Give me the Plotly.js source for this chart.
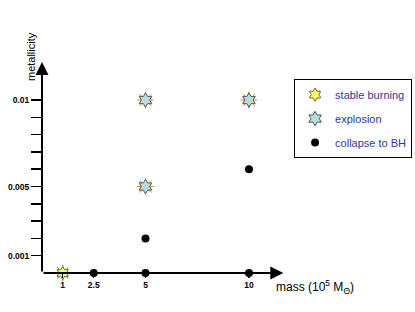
<!DOCTYPE html>
<html>
<head>
<meta charset="utf-8">
<script src="https://cdn.plot.ly/plotly-3.0.1.min.js"></script>
<style>html,body{margin:0;padding:0;background:#fff;}#chart{width:415px;height:312px;}</style>
</head>
<body>
<div id="chart"></div>
<script>
// Data
const stableMass = [1];
const stableZ = [0];
const explosionMass = [5, 10, 5];
const explosionZ = [0.01, 0.01, 0.005];
const collapseMass = [2.5, 5, 10, 5, 10];
const collapseZ = [0, 0, 0, 0.002, 0.006];
const xTickVals = [1, 2.5, 5, 10];
const xTickText = ['1', '2.5', '5', '10'];
const yTickVals = [0.001, 0.002, 0.003, 0.004, 0.005, 0.006, 0.007, 0.008, 0.009, 0.01];
const yTickText = ['0.001', '', '', '', '0.005', '', '', '', '', '0.01'];
const seriesNames = ['stable burning', 'explosion', 'collapse to BH'];
const xAxisEnd = 11.66;
const yAxisEnd = 0.0122;

const font = 'Liberation Sans, Arial, sans-serif';
const spikeColor = '#555555';

const traces = [
  {x: stableMass, y: stableZ, mode: 'markers', showlegend: false, hoverinfo: 'skip',
   marker: {symbol: 'asterisk-open', size: 13, line: {color: '#6b6b30', width: 1}}, cliponaxis: false},
  {x: explosionMass, y: explosionZ, mode: 'markers', showlegend: false, hoverinfo: 'skip',
   marker: {symbol: 'asterisk-open', size: 14, line: {color: spikeColor, width: 1}}, cliponaxis: false},
  {x: stableMass, y: stableZ, mode: 'markers', name: seriesNames[0], legendgroup: 'a', cliponaxis: false,
   marker: {symbol: 'hexagram', size: 10, color: '#ffff66', line: {color: '#6b6b30', width: 1}}},
  {x: explosionMass, y: explosionZ, mode: 'markers', name: seriesNames[1], legendgroup: 'b', cliponaxis: false,
   marker: {symbol: 'hexagram', size: 11, color: '#b8dcdc', line: {color: spikeColor, width: 1}}},
  {x: collapseMass, y: collapseZ, mode: 'markers', name: seriesNames[2], legendgroup: 'c', cliponaxis: false,
   marker: {symbol: 'circle', size: 8, color: '#000000'}}
];

const layout = {
  width: 415, height: 312,
  margin: {l: 42, r: 5, t: 62, b: 39, autoexpand: false},
  paper_bgcolor: '#ffffff', plot_bgcolor: '#ffffff',
  font: {family: font, color: '#000'},
  xaxis: {range: [0, 17.78], showgrid: false, zeroline: false, showline: false,
    tickmode: 'array', tickvals: xTickVals, ticktext: xTickText,
    ticks: 'outside', ticklen: 4, tickwidth: 1.5, tickcolor: '#000',
    tickfont: {size: 8.5, family: font, weight: 'bold', color: '#000'}},
  yaxis: {range: [0, yAxisEnd], showgrid: false, zeroline: false, showline: false,
    tickmode: 'array', tickvals: yTickVals, ticktext: yTickText,
    ticks: 'outside', ticklen: 10, tickwidth: 1.5, tickcolor: '#000',
    tickfont: {size: 8.5, family: font, weight: 'bold', color: '#000'}},
  legend: {x: 0.685, y: 0.919, xanchor: 'left', yanchor: 'top',
    traceorder: 'grouped', tracegroupgap: 5,
    bordercolor: '#000', borderwidth: 1, bgcolor: '#fff',
    font: {size: 11, family: font, color: '#333399'}},
  annotations: [
    {x: xAxisEnd, y: 0, ax: 0, ay: 0, xref: 'x', yref: 'y', axref: 'x', ayref: 'y',
     text: '', showarrow: true, arrowhead: 2, arrowsize: 1.3, arrowwidth: 2, arrowcolor: '#000'},
    {x: 0, y: yAxisEnd, ax: 0, ay: 0, xref: 'x', yref: 'y', axref: 'x', ayref: 'y',
     text: '', showarrow: true, arrowhead: 2, arrowsize: 1.3, arrowwidth: 2, arrowcolor: '#000'},
    {xref: 'paper', yref: 'paper', x: -0.0462, y: 1.052, xanchor: 'center', yanchor: 'middle',
     xshift: 6, yshift: -5,
     text: 'metallicity', textangle: -90,
     showarrow: false, font: {size: 11, family: font, color: '#000'}},
    {xref: 'paper', yref: 'paper', x: 0.743, y: -0.066, xanchor: 'center', yanchor: 'middle',
     text: 'mass (10<sup>5</sup> M<sub>\u0398</sub>)',
     showarrow: false, font: {size: 12, family: font, color: '#000'}}
  ]
};

Plotly.newPlot('chart', traces, layout, {displayModeBar: false, staticPlot: true});
</script>
</body>
</html>
